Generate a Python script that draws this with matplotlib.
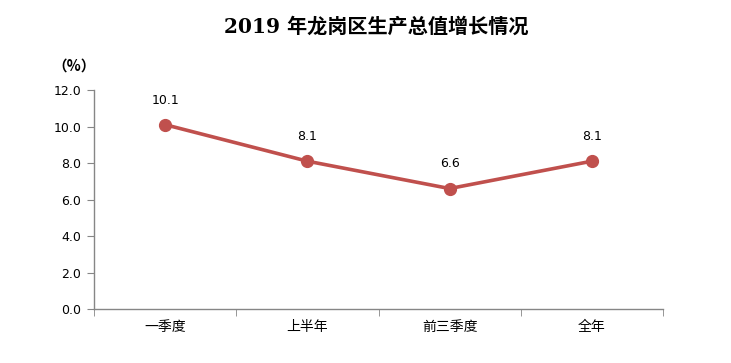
import matplotlib
matplotlib.use("Agg")
import matplotlib.pyplot as plt
from matplotlib.ticker import FixedLocator, NullFormatter

plt.rcParams['font.family'] = ['Noto Sans CJK SC', 'DejaVu Sans']

categories = ["一季度", "上半年", "前三季度", "全年"]
values = [10.1, 8.1, 6.6, 8.1]
yticks = [0.0, 2.0, 4.0, 6.0, 8.0, 10.0, 12.0]
title = "2019 年龙岗区生产总值增长情况"
unit = "（%）"

fig = plt.figure(figsize=(7.31, 3.63), dpi=100)
ax = fig.add_axes([94/731, 1-309/363, (663-94)/731, (309-90)/363])

x = list(range(len(categories)))
line_color = "#C0504D"
ax.plot(x, values, color=line_color, lw=2.6, marker='o', ms=8.5,
        markerfacecolor=line_color, markeredgecolor=line_color, zorder=3)
for xi, v in zip(x, values):
    ax.annotate(f"{v:.1f}", (xi, v), xytext=(0, 13), textcoords='offset points',
                ha='center', va='bottom', fontsize=9, family='DejaVu Sans', color='#000000')

ax.set_xlim(-0.5, len(categories) - 0.5)
ax.set_ylim(0, 12)
ax.set_yticks(yticks)
ax.set_yticklabels([f"{t:.1f}" for t in yticks], family='DejaVu Sans', fontsize=9)

ax.set_xticks(x)
ax.set_xticklabels(categories, fontsize=10)
ax.tick_params(axis='x', which='major', length=0, pad=8)
ax.xaxis.set_minor_locator(FixedLocator([i - 0.5 for i in range(len(categories) + 1)]))
ax.xaxis.set_minor_formatter(NullFormatter())
ax.tick_params(axis='x', which='minor', length=5, color='#868686', direction='out')
ax.tick_params(axis='y', length=5, color='#868686', direction='out', pad=4)

for s in ['top', 'right']:
    ax.spines[s].set_visible(False)
for s in ['left', 'bottom']:
    ax.spines[s].set_color('#868686')
    ax.spines[s].set_linewidth(1.0)

fig.text(376/731, 1-27/363, title, ha='center', va='center', fontsize=14.5,
         fontweight='bold', family=['DejaVu Serif', 'Noto Sans CJK SC'])
fig.text(74/731, 1-66/363, unit, ha='center', va='center', fontsize=10.5,
         fontweight='bold')

fig.savefig("out.png", dpi=100)
